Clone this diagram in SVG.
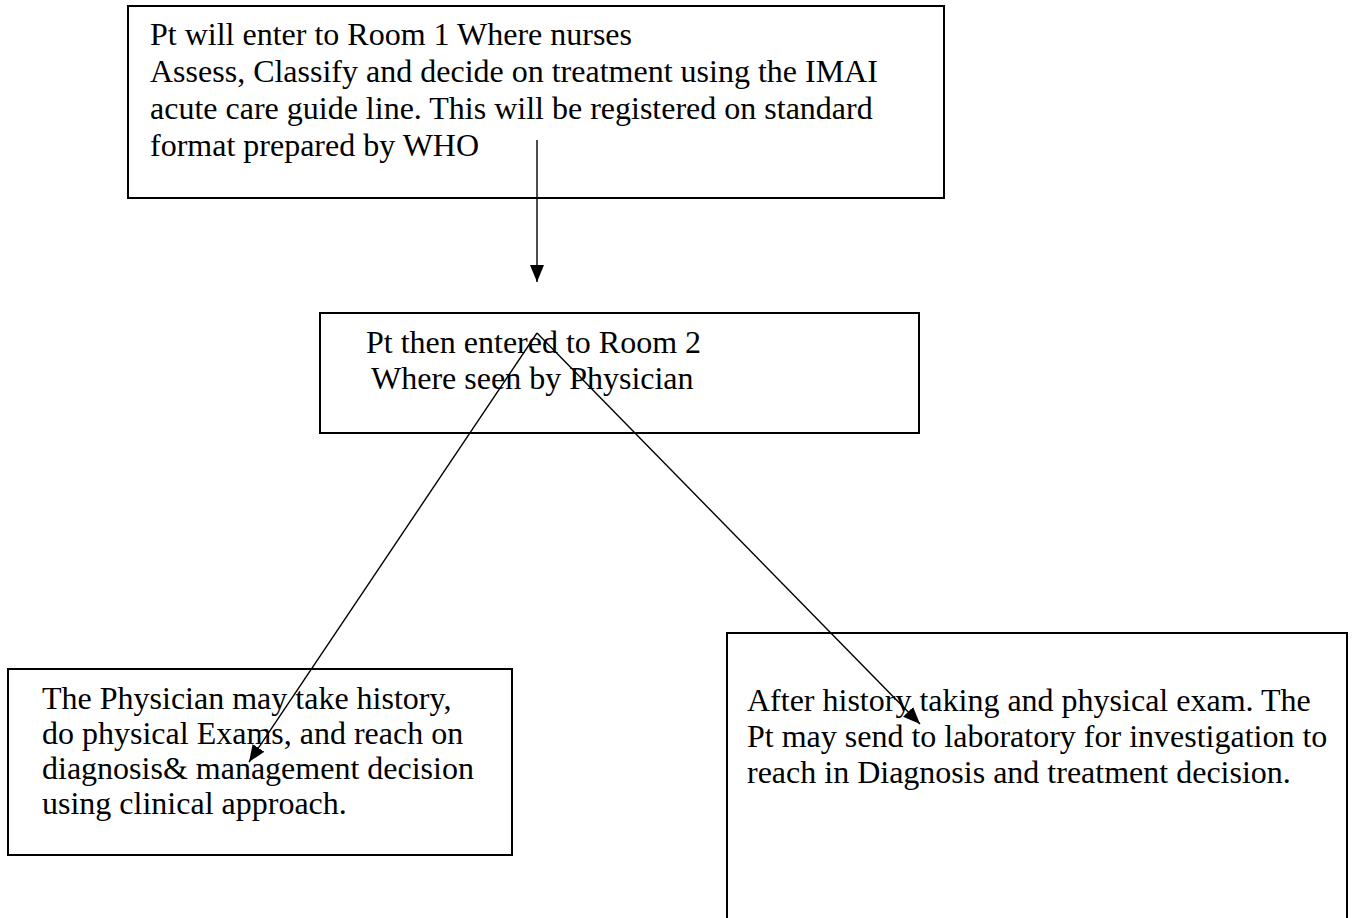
<svg xmlns="http://www.w3.org/2000/svg" width="1353" height="918" viewBox="0 0 1353 918">
<style>
.box{fill:#fff;stroke:#000;stroke-width:2}
.t{font-family:"Liberation Serif","Times New Roman",serif;fill:#000;font-size:32px}
.c{stroke:#000;stroke-width:1.4;fill:none}
</style>
<defs>
<marker id="ah" viewBox="0 0 17 14" refX="17" refY="7" markerWidth="17" markerHeight="14" markerUnits="userSpaceOnUse" orient="auto">
<path d="M0,0 L17,7 L0,14 z" fill="#000"/>
</marker>
</defs>
<g id="node-room1">
<rect class="box" x="128" y="6" width="816" height="192"/>
<text class="t"><tspan x="150" y="45">Pt will enter to Room 1 Where nurses</tspan><tspan x="150" y="82">Assess, Classify and decide on treatment using the IMAI</tspan><tspan x="150" y="119">acute care guide line. This will be registered on standard</tspan><tspan x="150" y="156">format prepared by WHO</tspan></text>
</g>
<g id="node-room2">
<rect class="box" x="320" y="313" width="599" height="120"/>
<text class="t"><tspan x="366" y="353">Pt then entered to Room 2</tspan><tspan x="371" y="389">Where seen by Physician</tspan></text>
</g>
<g id="node-physician">
<rect class="box" x="8" y="669" width="504" height="186"/>
<text class="t"><tspan x="42" y="709">The Physician may take history,</tspan><tspan x="42" y="744">do physical Exams, and reach on</tspan><tspan x="42" y="779">diagnosis&amp; management decision</tspan><tspan x="42" y="814">using clinical approach.</tspan></text>
</g>
<g id="node-lab">
<path class="box" d="M727,930 V633 H1347 V930"/>
<text class="t"><tspan x="747" y="711">After history taking and physical exam. The</tspan><tspan x="747" y="747">Pt may send to laboratory for investigation to</tspan><tspan x="747" y="783">reach in Diagnosis and treatment decision.</tspan></text>
</g>
<g id="connectors">
<line class="c" x1="537" y1="140" x2="537" y2="282" marker-end="url(#ah)"/>
<line class="c" x1="537" y1="333" x2="249" y2="762" marker-end="url(#ah)"/>
<line class="c" x1="537" y1="333" x2="920" y2="724" marker-end="url(#ah)"/>
</g>
</svg>
